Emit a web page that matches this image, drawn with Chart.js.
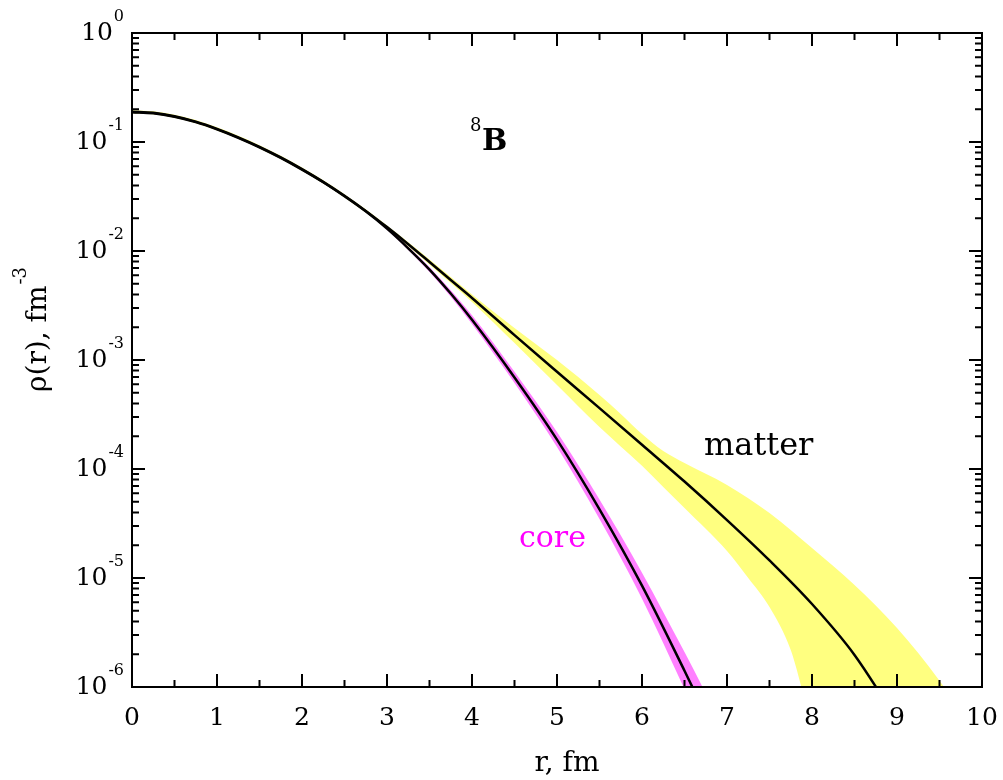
<!DOCTYPE html>
<html>
<head>
<meta charset="utf-8">
<title>8B density</title>
<script src="https://cdn.jsdelivr.net/npm/chart.js@4.4.0/dist/chart.umd.min.js"></script>
<style>
  html, body { margin: 0; padding: 0; background: #fff; }
  #wrap { width: 1003px; height: 780px; }
</style>
</head>
<body>
<div id="wrap"><canvas id="density-chart"></canvas></div>
<script>
// radius grids, fm
const rCore = [0, 0.25, 0.5, 0.75, 1, 1.25, 1.5, 1.75, 2, 2.25, 2.5, 2.75, 3, 3.25, 3.5, 3.75, 4,
    4.5, 5, 5.5, 6, 6.5, 7];
const rMatter = [0, 0.25, 0.5, 0.75, 1, 1.25, 1.5, 1.75, 2, 2.25, 2.5, 2.75, 3, 3.25, 3.5, 3.75, 4,
    4.5, 5, 5.5, 6, 6.5, 7, 7.5, 8, 8.5, 9];
const rMatterHigh = [0, 0.25, 0.5, 0.75, 1, 1.25, 1.5, 1.75, 2, 2.25, 2.5, 2.75, 3, 3.25, 3.5, 3.75, 4,
    4.5, 5, 5.5, 5.75, 6, 6.25, 6.5, 7, 7.5, 8, 8.5, 9, 9.5, 10];
const rMatterLow = [0, 0.25, 0.5, 0.75, 1, 1.25, 1.5, 1.75, 2, 2.25, 2.5, 2.75, 3, 3.25, 3.5, 3.75, 4,
    4.5, 5, 5.5, 6, 6.25, 6.5, 7, 7.25, 7.5, 7.75, 8, 8.5, 9, 9.5, 10];

// densities, fm^-3
const coreMid = [0.1878, 0.1833, 0.1707, 0.1522, 0.1307, 0.1093, 0.0894, 0.0715, 0.0558, 0.0427, 0.03175, 0.0231,
    0.01603, 0.01059, 6.76e-3, 4.07e-3, 2.34e-3, 6.92e-4, 1.86e-4, 4.27e-5, 8.51e-6, 1.41e-6, 2.19e-7];
const coreHigh = [0.1897, 0.1852, 0.1724, 0.1537, 0.1320, 0.1104, 0.0903, 0.0722, 0.0564, 0.0431, 0.03207, 0.02333,
    0.01641, 0.01096, 7.11e-3, 4.37e-3, 2.57e-3, 7.80e-4, 2.18e-4, 5.25e-5, 1.12e-5, 2.09e-6, 3.63e-7];
const coreLow = [0.1859, 0.1815, 0.1690, 0.1506, 0.1294, 0.1082, 0.0885, 0.0708, 0.0553, 0.0422, 0.03143, 0.02286,
    0.01567, 0.01023, 6.43e-3, 3.80e-3, 2.14e-3, 6.14e-4, 1.59e-4, 3.47e-5, 6.46e-6, 9.55e-7, 1.32e-7];

const matterMid = [0.1897, 0.1852, 0.1724, 0.1537, 0.1320, 0.1104, 0.0903, 0.0722, 0.0564, 0.0431, 0.03207, 0.02333,
    0.01657, 0.01155, 7.93e-3, 5.42e-3, 3.71e-3, 1.69e-3, 7.80e-4, 3.62e-4, 1.67e-4, 7.67e-5, 3.40e-5,
    1.45e-5, 5.77e-6, 1.97e-6, 4.98e-7];
const matterHigh = [0.1960, 0.1913, 0.1781, 0.1588, 0.1364, 0.1140, 0.0933, 0.0746, 0.0583, 0.0445, 0.03313, 0.02410,
    0.01712, 0.01204, 8.36e-3, 5.78e-3, 3.99e-3, 1.97e-3, 1.00e-3, 4.78e-4, 3.20e-4, 2.09e-4, 1.46e-4,
    1.135e-4, 7.13e-5, 3.94e-5, 1.88e-5, 8.63e-6, 3.48e-6, 1.14e-6, 2.94e-7];
const matterLow = [0.1836, 0.1793, 0.1669, 0.1488, 0.1278, 0.1069, 0.0874, 0.0699, 0.0546, 0.0417, 0.03104, 0.02258,
    0.01604, 0.01108, 7.52e-3, 5.08e-3, 3.41e-3, 1.43e-3, 5.90e-4, 2.43e-4, 1.07e-4, 6.84e-5, 4.39e-5,
    1.77e-5, 1.00e-5, 5.42e-6, 2.18e-6, 4.48e-7, 5e-8, 5e-9, 5e-10, 5e-11];

// axis ticks
const xTicks = [0, 1, 2, 3, 4, 5, 6, 7, 8, 9, 10];
const yTicks = [1, 1e-1, 1e-2, 1e-3, 1e-4, 1e-5, 1e-6];
const yTickExp = ['0', '-1', '-2', '-3', '-4', '-5', '-6'];

const SERIF = '"DejaVu Serif", "Liberation Serif", serif';

function pts(xs, ys) {
    return xs.map((x, i) => ({ x: x, y: ys[i] }));
}

function band(label, xs, ys, fill, color) {
    return {
        label: label,
        data: pts(xs, ys),
        borderWidth: 0,
        borderColor: 'rgba(0,0,0,0)',
        backgroundColor: color,
        fill: fill,
        pointRadius: 0,
        cubicInterpolationMode: 'monotone'
    };
}

function curve(label, xs, ys) {
    return {
        label: label,
        data: pts(xs, ys),
        borderWidth: 2.5,
        borderColor: '#000',
        fill: false,
        pointRadius: 0,
        cubicInterpolationMode: 'monotone'
    };
}

// frame, inward ticks, labels and annotations
const decorations = {
    id: 'decorations',
    afterDatasetsDraw(chart) {
        const ctx = chart.ctx;
        const a = chart.chartArea;
        const x = chart.scales.x;
        const y = chart.scales.y;
        ctx.save();
        ctx.strokeStyle = '#000';
        ctx.lineWidth = 2;
        ctx.beginPath();
        // x ticks, majors on integers, minors on halves
        for (let i = 0; i < xTicks.length; i++) {
            const px = x.getPixelForValue(xTicks[i]);
            ctx.moveTo(px, a.bottom); ctx.lineTo(px, a.bottom - 13);
            ctx.moveTo(px, a.top); ctx.lineTo(px, a.top + 13);
            if (i < xTicks.length - 1) {
                const pm = x.getPixelForValue((xTicks[i] + xTicks[i + 1]) / 2);
                ctx.moveTo(pm, a.bottom); ctx.lineTo(pm, a.bottom - 7);
                ctx.moveTo(pm, a.top); ctx.lineTo(pm, a.top + 7);
            }
        }
        // y ticks, decades plus 2..9 minors
        for (let i = 0; i < yTicks.length; i++) {
            const py = y.getPixelForValue(yTicks[i]);
            ctx.moveTo(a.left, py); ctx.lineTo(a.left + 13, py);
            ctx.moveTo(a.right, py); ctx.lineTo(a.right - 13, py);
            if (i < yTicks.length - 1) {
                for (let m = 2; m <= 9; m++) {
                    const pm = y.getPixelForValue(yTicks[i + 1] * m);
                    ctx.moveTo(a.left, pm); ctx.lineTo(a.left + 7, pm);
                    ctx.moveTo(a.right, pm); ctx.lineTo(a.right - 7, pm);
                }
            }
        }
        ctx.stroke();
        ctx.strokeRect(a.left, a.top, a.right - a.left, a.bottom - a.top);

        ctx.fillStyle = '#000';
        ctx.textBaseline = 'alphabetic';

        // x tick labels
        ctx.font = '25px ' + SERIF;
        ctx.textAlign = 'center';
        xTicks.forEach(v => ctx.fillText(String(v), x.getPixelForValue(v), 725));

        // y tick labels as 10 with superscript exponent
        yTicks.forEach((v, i) => {
            const py = y.getPixelForValue(v);
            ctx.font = '16px ' + SERIF;
            ctx.textAlign = 'right';
            const supW = ctx.measureText(yTickExp[i]).width;
            ctx.fillText(yTickExp[i], 124, py - 12);
            ctx.font = '25px ' + SERIF;
            ctx.fillText('10', 124 - supW - 1, py + 7);
        });

        // axis titles
        ctx.font = '28px ' + SERIF;
        ctx.textAlign = 'center';
        ctx.fillText('r, fm', 567, 771);

        ctx.save();
        ctx.translate(46, 330);
        ctx.rotate(-Math.PI / 2);
        ctx.font = '28px ' + SERIF;
        const mainW = ctx.measureText('ρ(r), fm').width;
        ctx.font = '18px ' + SERIF;
        const expW = ctx.measureText('-3').width;
        const start = -(mainW + expW) / 2;
        ctx.textAlign = 'left';
        ctx.font = '28px ' + SERIF;
        ctx.fillText('ρ(r), fm', start, 0);
        ctx.font = '18px ' + SERIF;
        ctx.fillText('-3', start + mainW + 1, -20);
        ctx.restore();

        // nucleus and curve labels
        ctx.textAlign = 'left';
        ctx.font = '18px ' + SERIF;
        ctx.fillText('8', 470, 131);
        ctx.font = 'bold 30px ' + SERIF;
        ctx.fillText('B', 482, 150);
        ctx.font = '32px ' + SERIF;
        ctx.fillText('matter', 704, 455);
        ctx.font = '30px ' + SERIF;
        ctx.fillStyle = '#ff00ff';
        ctx.fillText('core', 519, 547);
        ctx.restore();
    }
};

new Chart(document.getElementById('density-chart'), {
    type: 'line',
    data: {
        datasets: [
            curve('matter', rMatter, matterMid),
            curve('core', rCore, coreMid),
            band('core high', rCore, coreHigh, '+1', '#ff80ff'),
            band('core low', rCore, coreLow, false, 'rgba(0,0,0,0)'),
            band('matter high', rMatterHigh, matterHigh, '+1', '#ffff80'),
            band('matter low', rMatterLow, matterLow, false, 'rgba(0,0,0,0)')
        ]
    },
    options: {
        responsive: true,
        maintainAspectRatio: false,
        animation: false,
        layout: { padding: { left: 132, right: 21, top: 33, bottom: 93 } },
        plugins: {
            legend: { display: false },
            tooltip: { enabled: false }
        },
        scales: {
            x: { type: 'linear', min: 0, max: 10, display: false },
            y: { type: 'logarithmic', min: 1e-6, max: 1, display: false }
        }
    },
    plugins: [decorations]
});
</script>
</body>
</html>
